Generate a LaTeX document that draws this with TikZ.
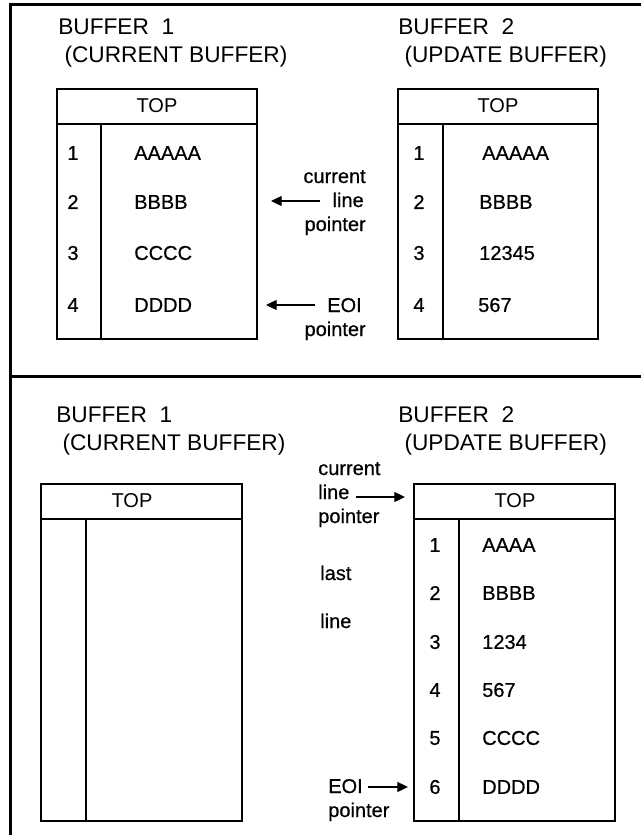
\documentclass[tikz,border=0pt]{standalone}
\usepackage{fontspec}
\setmainfont{Liberation Sans}
\newfontfamily\heavyfont{Liberation Sans}[FakeBold=0.6]
\usetikzlibrary{arrows.meta}
\begin{document}
\begin{tikzpicture}[x=0.75pt,y=-0.75pt,
  heading/.style={font=\fontsize{17}{20}\selectfont, anchor=base west, inner sep=0pt},
  cell/.style={font=\heavyfont\fontsize{15}{18}\selectfont, inner sep=0pt},
  item/.style={cell, anchor=west},
  toptext/.style={font=\fontsize{15}{18}\selectfont, inner sep=0pt},
  lbl/.style={font=\heavyfont\fontsize{15}{18}\selectfont, inner sep=0pt},
  tbl/.style={line width=1.5pt},
  frame/.style={line width=2.25pt},
  ptr/.style={line width=0.9pt, -{Triangle[length=8pt,width=7.5pt]}}]
\useasboundingbox (0,0) rectangle (641,835);
% frame
\draw[frame] (10,835) -- (10,4) -- (641,4);
\draw[frame] (10,376) -- (641,376);
% ---------- top panel ----------
\node[heading] (h1) at (58,34) {BUFFER\ \ 1};
\node[heading] (h1b) at (58,62) {\ (CURRENT BUFFER)};
\node[heading] (h2) at (398,34) {BUFFER\ \ 2};
\node[heading] (h2b) at (398,62) {\ (UPDATE BUFFER)};
% table A
\draw[tbl] (57,89) rectangle (257,339);
\draw[tbl] (57,124) -- (257,124);
\draw[tbl] (101,124) -- (101,339);
\node[toptext] (aTop) at (157,106) {TOP};
\node[cell] (an1) at (73,153) {1};
\node[cell] (an2) at (73,202) {2};
\node[cell] (an3) at (73,253) {3};
\node[cell] (an4) at (73,305) {4};
\node[item] (ai1) at (134,153) {AAAAA};
\node[item] (ai2) at (134,202) {BBBB};
\node[item] (ai3) at (134,253) {CCCC};
\node[item] (ai4) at (134,305) {DDDD};
% table B
\draw[tbl] (398,89) rectangle (598,339);
\draw[tbl] (398,124) -- (598,124);
\draw[tbl] (443,124) -- (443,339);
\node[toptext] (bTop) at (498,106) {TOP};
\node[cell] (bn1) at (419,153) {1};
\node[cell] (bn2) at (419,202) {2};
\node[cell] (bn3) at (419,253) {3};
\node[cell] (bn4) at (419,305) {4};
\node[item] (bi1) at (482,153) {AAAAA};
\node[item] (bi2) at (479,202) {BBBB};
\node[item] (bi3) at (479,253) {12345};
\node[item] (bi4) at (478,305) {567};
% pointers top
\node[lbl, anchor=base east] (c1) at (366,183) {current};
\node[lbl, anchor=base east] (c2) at (364,207) {line};
\node[lbl, anchor=base east] (c3) at (366,231) {pointer};
\coordinate (p1s) at (320,201);
\coordinate (p1e) at (271,201);
\draw[ptr] (p1s) -- (p1e);
\node[lbl, anchor=base east] (e1) at (362,312) {EOI};
\node[lbl, anchor=base east] (e2) at (366,336) {pointer};
\coordinate (p2s) at (315,305);
\coordinate (p2e) at (266,305);
\draw[ptr] (p2s) -- (p2e);
% ---------- bottom panel ----------
\node[heading] (h3) at (56,422) {BUFFER\ \ 1};
\node[heading] (h3b) at (56,450) {\ (CURRENT BUFFER)};
\node[heading] (h4) at (398,422) {BUFFER\ \ 2};
\node[heading] (h4b) at (398,450) {\ (UPDATE BUFFER)};
% table C
\draw[tbl] (41,484) rectangle (242,821);
\draw[tbl] (41,519) -- (242,519);
\draw[tbl] (86,519) -- (86,821);
\node[toptext] (cTop) at (132,501) {TOP};
% table D
\draw[tbl] (414,484) rectangle (615,821);
\draw[tbl] (414,519) -- (615,519);
\draw[tbl] (459,519) -- (459,821);
\node[toptext] (dTop) at (515,501) {TOP};
\node[cell] (dn1) at (435,545) {1};
\node[cell] (dn2) at (435,593) {2};
\node[cell] (dn3) at (435,642) {3};
\node[cell] (dn4) at (435,690) {4};
\node[cell] (dn5) at (435,738) {5};
\node[cell] (dn6) at (435,787) {6};
\node[item] (di1) at (482,545) {AAAA};
\node[item] (di2) at (482,593) {BBBB};
\node[item] (di3) at (482,642) {1234};
\node[item] (di4) at (482,690) {567};
\node[item] (di5) at (482,738) {CCCC};
\node[item] (di6) at (482,787) {DDDD};
% pointers bottom
\node[lbl, anchor=base west] (c4) at (318,475) {current};
\node[lbl, anchor=base west] (c5) at (318,499) {line};
\node[lbl, anchor=base west] (c6) at (318,523) {pointer};
\coordinate (p3s) at (356,497);
\coordinate (p3e) at (405,497);
\draw[ptr] (p3s) -- (p3e);
\node[lbl, anchor=base west] (l1) at (320,580) {last};
\node[lbl, anchor=base west] (l2) at (320,628) {line};
\node[lbl, anchor=base west] (e3) at (328,793) {EOI};
\node[lbl, anchor=base west] (e4) at (328,817) {pointer};
\coordinate (p4s) at (368,787);
\coordinate (p4e) at (408,787);
\draw[ptr] (p4s) -- (p4e);
\end{tikzpicture}
\end{document}
